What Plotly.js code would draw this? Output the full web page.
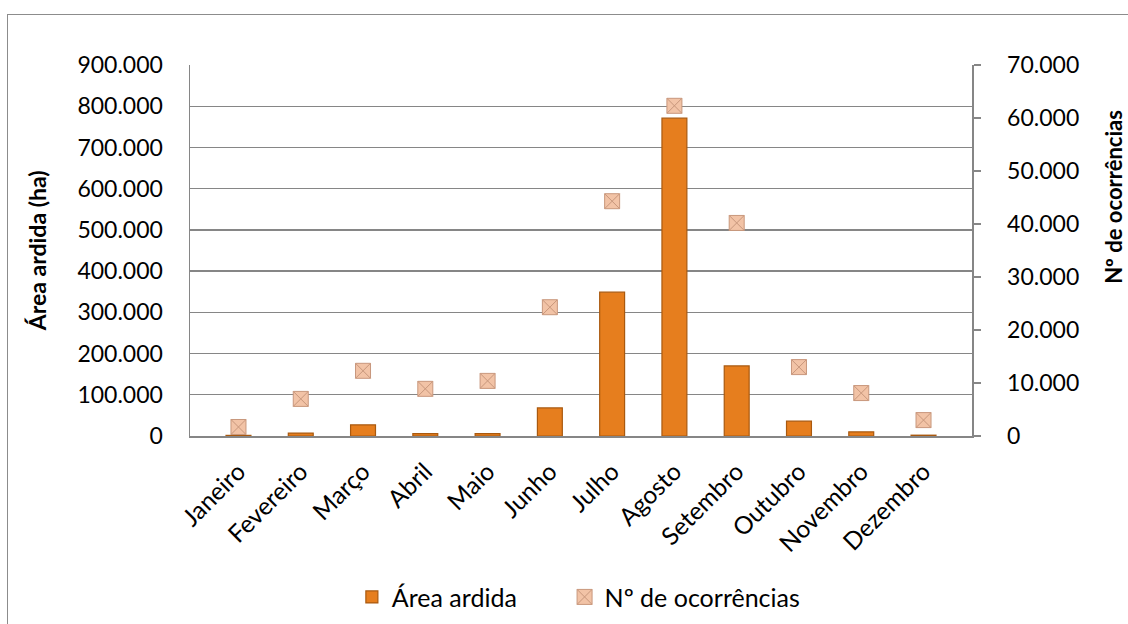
<!DOCTYPE html>
<html>
<head>
<meta charset="utf-8">
<script src="https://cdn.plot.ly/plotly-3.0.1.min.js"></script>
<style>
  body { margin: 0; background: #fff; overflow: hidden; }
  #frame { position: absolute; left: 7px; top: 14px; width: 1200px; height: 700px;
           border: 1px solid #8c8c8c; pointer-events: none; }
  #fig { position: absolute; left: 0; top: 0; width: 1128px; height: 624px; }
</style>
</head>
<body>
<div id="fig"></div>
<div id="frame"></div>
<script>
// months (Portuguese labels as in the source chart)
var meses = ['Janeiro', 'Fevereiro', 'Março', 'Abril', 'Maio', 'Junho',
             'Julho', 'Agosto', 'Setembro', 'Outubro', 'Novembro', 'Dezembro'];

// burnt area, ha (left axis)
var areaArdida = [1500, 7000, 27000, 6000, 6000, 68000,
                  349000, 771000, 170000, 36000, 10000, 2000];

// number of occurrences (right axis)
var ocorrencias = [1700, 7000, 12300, 8900, 10400, 24300,
                   44300, 62300, 40200, 13000, 8100, 3000];

var fonte = 'Lato, "Open Sans", sans-serif';
var cinza = '#868686';

var series = [
  { x: meses, y: areaArdida, type: 'bar', name: 'Área ardida',
    width: 0.4, legend: 'legend',
    marker: { color: '#E67E1E', line: { color: '#A9590F', width: 1.2 } } },
  { x: meses, y: ocorrencias, type: 'scatter', mode: 'markers',
    name: 'Nº de ocorrências', yaxis: 'y2', legend: 'legend2',
    marker: { symbol: 'square-x', size: 15, color: '#F2C3A6',
              line: { color: '#C8977C', width: 1 } } }
];

// one legend box per entry so each can sit where the original has it
var legendaBase = { orientation: 'h', xanchor: 'left', yref: 'container',
                    y: 0.043, yanchor: 'middle', font: { family: fonte, size: 25 } };

var layout = {
  width: 1128, height: 624,
  margin: { l: 190, r: 156, t: 65, b: 188, autoexpand: false },
  paper_bgcolor: 'rgba(0,0,0,0)', plot_bgcolor: '#fff',
  separators: ',.',
  font: { family: fonte, size: 23, color: '#000' },
  showlegend: true,
  legend: Object.assign({ x: 0.207 }, legendaBase),
  legend2: Object.assign({ x: 0.479 }, legendaBase),
  xaxis: { tickangle: -45, showline: true, linecolor: cinza, linewidth: 1.5,
           ticks: '', showgrid: false, fixedrange: true, automargin: false,
           ticklabelstandoff: 10,
           tickfont: { family: fonte, size: 24.5 } },
  yaxis: { range: [0, 900000], dtick: 100000, tickformat: ',d',
           showgrid: true, gridcolor: cinza, gridwidth: 1.3,
           showline: true, linecolor: cinza, linewidth: 1.5, ticks: '',
           ticklabelstandoff: 21, zeroline: false, fixedrange: true, automargin: false },
  yaxis2: { range: [0, 70000], dtick: 10000, tickformat: ',d',
            overlaying: 'y', side: 'right', showgrid: false, zeroline: false,
            showline: true, linecolor: cinza, linewidth: 1.5,
            ticks: 'outside', ticklen: 7, tickcolor: cinza, tickwidth: 1.3,
            ticklabelstandoff: 22, fixedrange: true, automargin: false },
  annotations: [
    { text: '<b>Área ardida (ha)</b>', xref: 'paper', yref: 'paper',
      x: -0.196, y: 0.5, xanchor: 'center', yanchor: 'middle', textangle: -90,
      showarrow: false, font: { family: fonte, size: 23 } },
    { text: '<b>Nº de ocorrências</b>', xref: 'paper', yref: 'paper',
      x: 1.18, y: 0.644, xanchor: 'center', yanchor: 'middle', textangle: -90,
      showarrow: false, font: { family: fonte, size: 22 } }
  ]
};

Plotly.newPlot('fig', series, layout, { displayModeBar: false, staticPlot: true });
</script>
</body>
</html>
